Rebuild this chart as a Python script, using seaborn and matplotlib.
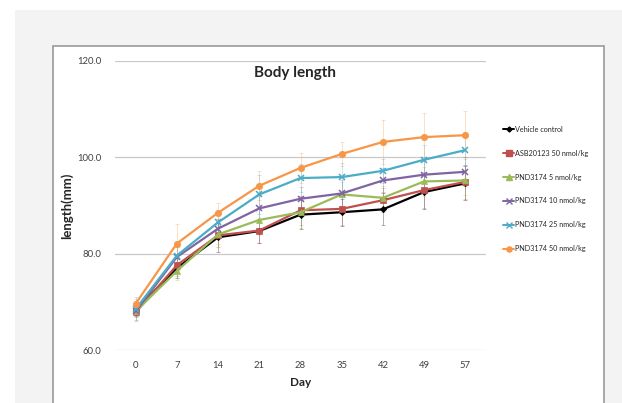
import pandas as pd
import matplotlib
matplotlib.use('Agg')
import matplotlib.pyplot as plt
from matplotlib.patches import Rectangle
from matplotlib.lines import Line2D
import seaborn as sns

days = ['0', '7', '14', '21', '28', '35', '42', '49', '57']
groups = ['Vehicle control', 'ASB20123 50 nmol/kg', 'PND3174 5 nmol/kg',
          'PND3174 10 nmol/kg', 'PND3174 25 nmol/kg', 'PND3174 50 nmol/kg']

vehicle = [68.3, 77.0, 83.4, 84.7, 88.1, 88.6, 89.2, 92.8, 94.6]
asb = [67.8, 77.6, 83.8, 84.8, 89.0, 89.3, 91.1, 93.2, 94.9]
pnd5 = [68.0, 76.4, 84.0, 87.0, 88.6, 92.3, 91.6, 95.0, 95.2]
pnd10 = [68.0, 79.3, 85.2, 89.4, 91.4, 92.5, 95.2, 96.4, 97.0]
pnd25 = [68.5, 79.6, 86.5, 92.3, 95.7, 95.9, 97.2, 99.5, 101.5]
pnd50 = [69.6, 82.1, 88.5, 94.1, 97.8, 100.7, 103.2, 104.2, 104.6]

vehicle_err = [1.2, 2.0, 3.0, 2.5, 3.0, 2.8, 3.3, 3.5, 3.5]
asb_err = [1.5, 2.2, 2.5, 2.5, 3.0, 3.4, 2.5, 3.8, 3.5]
pnd5_err = [1.0, 1.8, 2.0, 2.5, 3.2, 2.5, 2.5, 3.0, 3.0]
pnd10_err = [1.2, 2.0, 2.0, 2.5, 2.5, 2.8, 2.5, 3.0, 3.0]
pnd25_err = [2.5, 2.0, 2.0, 4.0, 3.0, 3.0, 2.5, 3.0, 3.0]
pnd50_err = [1.0, 4.0, 2.0, 3.0, 3.2, 2.5, 4.6, 5.0, 5.0]

means = [vehicle, asb, pnd5, pnd10, pnd25, pnd50]
errs = [vehicle_err, asb_err, pnd5_err, pnd10_err, pnd25_err, pnd50_err]

colors = ['#000000', '#C0504D', '#9BBB59', '#8064A2', '#4BACC6', '#F79646']
markers = ['D', 's', '^', 'x', 'x', 'o']
msizes = [3.2, 4.6, 4.6, 4.6, 4.6, 4.6]

rows = []
for g, m, e in zip(groups, means, errs):
    for i, d in enumerate(days):
        rows.append({'Day': d, 'pos': i, 'length': m[i], 'err': e[i], 'group': g})
df = pd.DataFrame(rows)

sns.set_style('white')
plt.rcParams['font.family'] = ['Lato', 'DejaVu Sans']

fig = plt.figure(figsize=(6.22, 4.03), dpi=100)
fig.patches.append(Rectangle((15 / 622, 0), 1, 1 - 10 / 403, transform=fig.transFigure,
                             facecolor='#f3f3f3', edgecolor='none', zorder=-3))
fig.patches.append(Rectangle((53 / 622, -0.1), (604 - 53) / 622, 0.1 + 1 - 46 / 403,
                             transform=fig.transFigure, facecolor='white',
                             edgecolor='#9a9a9a', linewidth=1.2, zorder=-2))

ax = fig.add_axes([115 / 622, 1 - 350 / 403, (486 - 115) / 622, (350 - 61) / 403])
ax.patch.set_alpha(0)

for g, c, mk, ms in zip(groups, colors, markers, msizes):
    sub = df[df['group'] == g]
    ax.errorbar(sub['pos'], sub['length'], yerr=sub['err'], fmt='none',
                ecolor=c, elinewidth=0.6, capsize=1.5, capthick=0.6, alpha=0.35, zorder=2)
    sns.lineplot(data=sub, x='pos', y='length', color=c, marker=mk, markersize=ms,
                 markeredgecolor=c, markeredgewidth=1.1 if mk == 'x' else 0.5,
                 linewidth=1.6, ax=ax, zorder=3, legend=False)

ax.set_xlim(-0.5, len(days) - 0.5)
ax.set_ylim(60, 120)
ax.set_yticks([60, 80, 100, 120])
ax.set_yticklabels(['60.0', '80.0', '100.0', '120.0'])
ax.set_xticks(range(len(days)))
ax.set_xticklabels(days)
ax.tick_params(axis='both', length=0, labelsize=6.8, colors='#404040')
ax.tick_params(axis='y', pad=10)
ax.tick_params(axis='x', pad=8)
ax.yaxis.grid(True, color='#c8c8c8', linewidth=0.9)
ax.set_axisbelow(True)
for s in ax.spines.values():
    s.set_visible(False)

ax.set_xlabel('Day', fontsize=8.5, fontweight='bold', labelpad=5)
ax.set_ylabel('length(mm)', fontsize=9.5, fontweight='bold', labelpad=3)
fig.text(295 / 622, 1 - 73 / 403, 'Body length', ha='center', va='center',
         fontsize=11, fontweight='bold')

handles = [Line2D([], [], color=c, marker=mk, markersize=ms * 0.8, markeredgecolor=c,
                  linewidth=1.4) for c, mk, ms in zip(colors, markers, msizes)]
fig.legend(handles, groups, loc='upper left', bbox_to_anchor=(500 / 622, 1 - 123 / 403),
           frameon=False, fontsize=5.2, handlelength=1.6, handletextpad=0.1,
           labelspacing=2.33, borderaxespad=0)

fig.savefig('out.png', dpi=100)
